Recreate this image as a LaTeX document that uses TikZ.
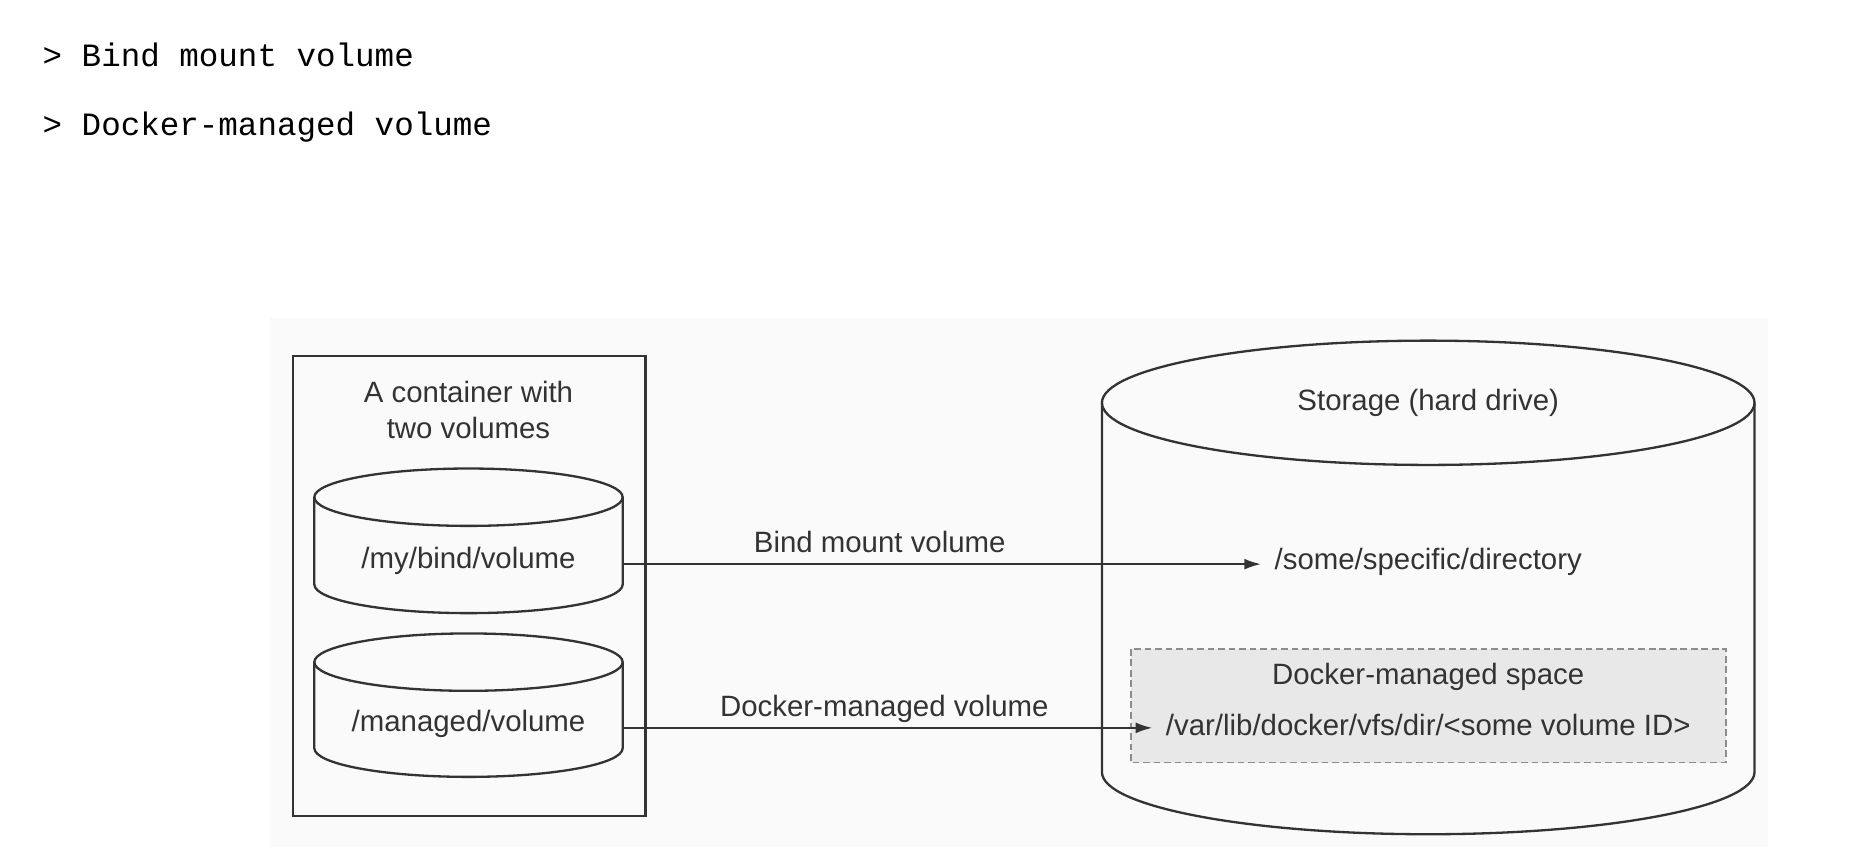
\documentclass[tikz,border=0pt]{standalone}
\usepackage{fontspec}
\setmainfont{Liberation Sans}
\newfontfamily\headfont{Liberation Mono}
\usetikzlibrary{arrows.meta}
\definecolor{inkgray}{RGB}{51,51,51}
\definecolor{spacegray}{RGB}{232,232,232}
\definecolor{dashgray}{RGB}{140,140,140}
\definecolor{paper}{RGB}{250,250,250}
\tikzset{
  drumline/.style={draw=inkgray, line width=0.55pt},
  label-text/.style={text=inkgray, font=\fontsize{7}{8.5}\selectfont, inner sep=1pt},
  path-text/.style={label-text, inner sep=2pt},
  link-text/.style={label-text, anchor=base, inner sep=0pt, yshift=2.8pt},
  head-text/.style={anchor=base west, inner sep=0pt, font=\headfont\fontsize{7.75}{9}\selectfont},
  link/.style={draw=inkgray, line width=0.55pt, -{Latex[length=4pt,width=2.6pt]}, shorten >=1pt},
  space-box/.style={fill=spacegray, draw=dashgray, line width=0.45pt, dash pattern=on 1.6pt off 0.9pt}
}
% drum: x centre, y of top ellipse centre, x radius, y radius, body height
\newcommand{\drum}[5]{
  \draw[drumline] ({#1-#3},{#2}) -- ({#1-#3},{#2-#5})
    arc[start angle=180, end angle=360, x radius=#3, y radius=#4] -- ({#1+#3},{#2});
  \draw[drumline] (#1,#2) ellipse[x radius=#3, y radius=#4];
}

\begin{document}
\begin{tikzpicture}
  \useasboundingbox (0,0) rectangle (15.68,-7.162);
  % header lines
  \node[head-text] (head1) at (0.35,-0.555) {> Bind mount volume};
  \node[head-text] (head2) at (0.35,-1.135) {> Docker-managed volume};
  % picture background
  \fill[paper] (2.26,-2.66) rectangle (14.79,-7.09);
  % container
  \draw[drumline] (2.45,-2.98) rectangle (5.40,-6.83);
  \node[label-text, align=center] (title) at (3.92,-3.43) {A container with\\two volumes};
  \drum{3.92}{-4.16}{1.29}{0.24}{0.73}
  \drum{3.92}{-5.54}{1.29}{0.24}{0.72}
  \node[label-text] (bind) at (3.92,-4.69) {/my/bind/volume};
  \node[label-text] (managed) at (3.92,-6.06) {/managed/volume};
  \coordinate (bindR) at (5.21,-4.72);
  \coordinate (managedR) at (5.21,-6.09);
  % storage
  \drum{11.95}{-3.37}{2.73}{0.52}{3.09}
  \node[label-text] (storage) at (11.95,-3.37) {Storage (hard drive)};
  \fill[space-box] (9.46,-5.43) rectangle (14.44,-6.38);
  \draw[space-box, fill=none] (9.46,-5.43) rectangle (14.44,-6.38);
  \node[label-text] (space) at (11.95,-5.66) {Docker-managed space};
  \node[path-text] (specdir) at (11.95,-4.70) {/some/specific/directory};
  \node[path-text] (vardir) at (11.95,-6.07) {/var/lib/docker/vfs/dir/<some volume ID>};
  % links
  \draw[link] (bindR) -- (bindR -| specdir.west) node[link-text, pos=.4] {Bind mount volume};
  \draw[link] (managedR) -- (managedR -| vardir.west) node[link-text, pos=.49] {Docker-managed volume};
\end{tikzpicture}
\end{document}
